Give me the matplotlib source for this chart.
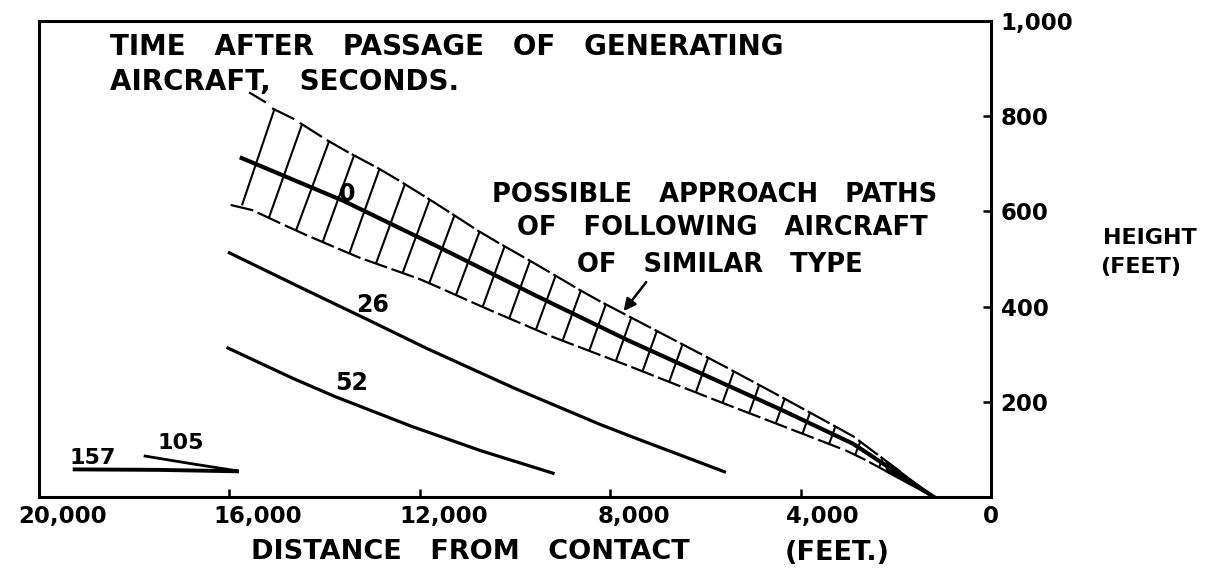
import numpy as np
import matplotlib.pyplot as plt
from matplotlib.transforms import ScaledTranslation

plt.rcParams['font.family'] = ['DejaVu Sans']
plt.rcParams['font.weight'] = 'bold'

# centre line (0 seconds), distance from contact / height in feet
path0_x = [15740, 13600, 11600, 9600, 7600, 5700, 4400, 2900, 1200]
path0_y = [712, 622, 525, 425, 328, 242, 183, 112, 0]

# edges of the band of possible approach paths
upper_x = [15740, 14850, 13780, 12730, 11680, 10630, 9520, 8420, 7790, 5700, 4400, 2900, 1200]
upper_y = [840, 807, 739, 683, 618, 550, 487, 422, 389, 280, 210, 128, 0]
lower_x = [15740, 14540, 13300, 11950, 10630, 9200, 7600, 5700, 4400, 2900, 1200]
lower_y = [613, 557, 504, 456, 397, 336, 275, 200, 150, 92, 0]

# where the cross bars of the band meet the lower edge
rung_x = [15735, 15170, 14600, 14040, 13480, 12920, 12360, 11800, 11240, 10680,
          10120, 9560, 9000, 8440, 7880, 7320, 6760, 6200, 5640, 5080, 4520,
          3960, 3400, 2850, 2350]

# wake curves, seconds after passage
c26_x = [16000, 14500, 13000, 11850, 10000, 8200, 7400, 6550, 5600]
c26_y = [513, 440, 368, 312, 228, 152, 121, 89, 53]
c52_x = [16030, 14660, 13780, 12160, 10710, 9200]
c52_y = [313, 249, 211, 148, 97, 50]
c105_x = [17770, 16800, 15840]
c105_y = [86, 70, 55]
c157_x = [19250, 17500, 15840]
c157_y = [58, 57, 54]

xtick_vals = [20000, 16000, 12000, 8000, 4000, 0]
xtick_labels = ['20,000', '16,000', '12,000', '8,000', '4,000', '0']
ytick_vals = [200, 400, 600, 800, 1000]
ytick_labels = ['200', '400', '600', '800', '1,000']

title_lines = ['TIME   AFTER   PASSAGE   OF   GENERATING', 'AIRCRAFT,   SECONDS.']
note_lines = ['POSSIBLE   APPROACH   PATHS', 'OF   FOLLOWING   AIRCRAFT',
              'OF   SIMILAR   TYPE']


def up(x):
    return np.interp(x, upper_x[::-1], upper_y[::-1])


def lo(x):
    return np.interp(x, lower_x[::-1], lower_y[::-1])


fig = plt.figure(figsize=(12.21, 5.71), dpi=100)
ax = fig.add_axes([0.0319, 0.1296, 0.7797, 0.8336])
ax.set_xlim(20000, 0)
ax.set_ylim(0, 1000)

for s in ax.spines.values():
    s.set_linewidth(2.2)

# band cross bars with short caps on both edges
for i, xb in enumerate(rung_x):
    sp = rung_x[i] - rung_x[i + 1] if i + 1 < len(rung_x) else rung_x[i - 1] - rung_x[i]
    yb = lo(xb)
    xt = xb - 3.0 * (up(xb) - yb)
    yt = up(xt)
    ax.plot([xb, xt], [yb, yt], color='black', lw=1.5, solid_capstyle='butt')
    ax.plot([xt + 0.05 * sp, xt - 0.7 * sp], [up(xt + 0.05 * sp), up(xt - 0.7 * sp)],
            color='black', lw=1.6)
    ax.plot([xb + 0.38 * sp, xb - 0.38 * sp], [lo(xb + 0.38 * sp), lo(xb - 0.38 * sp)],
            color='black', lw=1.6)

# solid wedge where the band closes in on touchdown
xf = np.array([2200, 1200])
ax.fill_between(xf, lo(xf), up(xf), color='black', lw=1.5, edgecolor='black')

# leader from the heading to the band
ax.plot([15567, 15252], [849, 830], color='black', lw=1.6)

ax.plot(path0_x, path0_y, color='black', lw=3.0)
ax.plot(c26_x, c26_y, color='black', lw=2.3)
ax.plot(c52_x, c52_y, color='black', lw=2.3)
ax.plot(c105_x, c105_y, color='black', lw=2.0)
ax.plot(c157_x, c157_y, color='black', lw=2.8)

ax.text(13530, 636, '0', fontsize=17, ha='center', va='center')
ax.text(12984, 403, '26', fontsize=17, ha='center', va='center')
ax.text(13425, 239, '52', fontsize=17, ha='center', va='center')
ax.text(18866, 82, '157', fontsize=16, ha='center', va='center')
ax.text(17018, 113, '105', fontsize=16, ha='center', va='center')

# headings
ax.text(18508, 945, title_lines[0], fontsize=20, ha='left', va='center')
ax.text(18508, 871, title_lines[1], fontsize=20, ha='left', va='center')
ax.text(5800, 634, note_lines[0], fontsize=18.5, ha='center', va='center')
ax.text(5650, 565, note_lines[1], fontsize=18.5, ha='center', va='center')
ax.text(5700, 487, note_lines[2], fontsize=18.5, ha='center', va='center')

ax.annotate('', xy=(7753, 386), xytext=(7207, 456),
            arrowprops=dict(arrowstyle='-|>', color='black', lw=1.8,
                            mutation_scale=18))

# axis titles
ax.text(15546, -116, 'DISTANCE   FROM   CONTACT', fontsize=19.5, ha='left',
        va='center', clip_on=False)
ax.text(3235, -118, '(FEET.)', fontsize=19.5, ha='center', va='center', clip_on=False)
ax.text(-2353, 544, 'HEIGHT', fontsize=16, ha='left', va='center', clip_on=False)
ax.text(-2290, 483, '(FEET)', fontsize=16, ha='left', va='center', clip_on=False)

ax.set_xticks(xtick_vals, xtick_labels)
ax.set_yticks(ytick_vals, ytick_labels)
ax.yaxis.tick_right()
ax.tick_params(axis='both', direction='in', length=6, width=1.8, labelsize=16.5)
ax.tick_params(axis='x', pad=6)
ax.tick_params(axis='y', pad=7)
for lab, dx in zip(ax.get_xticklabels(), [24, 28, 24, 24, 22, 0]):
    lab.set_transform(lab.get_transform() + ScaledTranslation(dx / 100, 0, fig.dpi_scale_trans))

fig.savefig('out.png', dpi=100)
